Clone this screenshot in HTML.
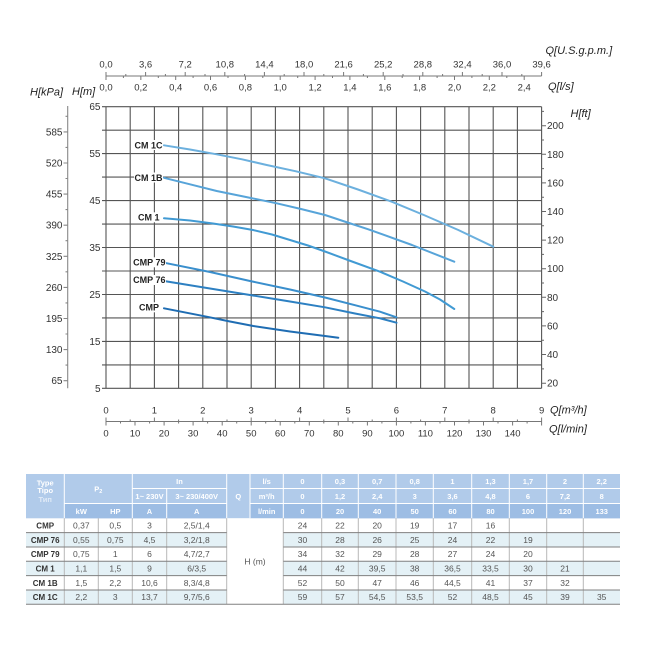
<!DOCTYPE html>
<html><head><meta charset="utf-8"><style>
html,body{margin:0;padding:0;background:#fff;}
svg{display:block;}
text{font-family:"Liberation Sans",Arial,sans-serif;}
</style></head><body>
<svg width="650" height="650" viewBox="0 0 650 650" xmlns="http://www.w3.org/2000/svg">
<rect width="650" height="650" fill="#fff"/>
<!-- grid -->
<g stroke="#555" stroke-width="1.1" fill="none">
<path d="M106 106.7V388.3M130.2 106.7V388.3M154.4 106.7V388.3M178.6 106.7V388.3M202.8 106.7V388.3M227 106.7V388.3M251.2 106.7V388.3M275.4 106.7V388.3M299.6 106.7V388.3M323.8 106.7V388.3M348 106.7V388.3M372.2 106.7V388.3M396.4 106.7V388.3M420.6 106.7V388.3M444.8 106.7V388.3M469 106.7V388.3M493.2 106.7V388.3M517.4 106.7V388.3M541.6 106.7V388.3"/>
<path d="M106 106.7H541.6M106 130.2H541.6M106 153.6H541.6M106 177.1H541.6M106 200.6H541.6M106 224.1H541.6M106 247.5H541.6M106 271H541.6M106 294.5H541.6M106 317.9H541.6M106 341.4H541.6M106 364.9H541.6M106 388.3H541.6"/>
<!-- left m ticks -->
<path d="M102 106.7H106M102 130.2H106M102 153.6H106M102 177.1H106M102 200.6H106M102 224.1H106M102 247.5H106M102 271H106M102 294.5H106M102 317.9H106M102 341.4H106M102 364.9H106M102 388.3H106"/>
</g>
<!-- kPa axis -->
<g stroke="#888" stroke-width="1.1" fill="none">
<path d="M67.7 106V388.3"/>
<path d="M63.5 380.7H67.7M63.5 349.6H67.7M63.5 318.5H67.7M63.5 287.4H67.7M63.5 256.3H67.7M63.5 225.2H67.7M63.5 194.1H67.7M63.5 163H67.7M63.5 131.9H67.7"/>
<path d="M65.5 365.1H67.7M65.5 334H67.7M65.5 302.9H67.7M65.5 271.8H67.7M65.5 240.7H67.7M65.5 209.6H67.7M65.5 178.5H67.7M65.5 147.4H67.7M65.5 116.3H67.7"/>
</g>
<!-- ft ticks -->
<g stroke="#666" stroke-width="1" fill="none">
<path d="M541.6 383.2H546M541.6 354.5H546M541.6 325.9H546M541.6 297.3H546M541.6 268.7H546M541.6 240.1H546M541.6 211.5H546M541.6 182.9H546M541.6 154.3H546M541.6 125.7H546"/>
<path d="M541.6 368.9H544M541.6 340.2H544M541.6 311.6H544M541.6 283H544M541.6 254.4H544M541.6 225.8H544M541.6 197.2H544M541.6 168.6H544M541.6 140H544M541.6 111.4H544"/>
</g>
<!-- top axis -->
<g stroke="#777" stroke-width="1" fill="none">
<path d="M106 76H541.6"/>
<path d="M106 72V76M145.6 72V76M185.2 72V76M224.8 72V76M264.4 72V76M304 72V76M343.6 72V76M383.2 72V76M422.8 72V76M462.4 72V76M502 72V76M541.6 72V76"/>
<path d="M125.8 74V76M165.4 74V76M205 74V76M244.6 74V76M284.2 74V76M323.8 74V76M363.4 74V76M403 74V76M442.6 74V76M482.2 74V76M521.8 74V76"/>
<path d="M106 76V80M140.85 76V80M175.7 76V80M210.5 76V80M245.4 76V80M280.2 76V80M315.1 76V80M349.9 76V80M384.8 76V80M419.6 76V80M454.5 76V80M489.3 76V80M524.2 76V80"/>
<path d="M123.4 76V78M158.3 76V78M193.1 76V78M228 76V78M262.8 76V78M297.7 76V78M332.5 76V78M367.4 76V78M402.2 76V78M437.1 76V78M471.9 76V78M506.8 76V78"/>
</g>
<!-- bottom axis -->
<g stroke="#777" stroke-width="1" fill="none">
<path d="M106 421.5H541.6"/>
<path d="M106 417.5V421.5M154.4 417.5V421.5M202.8 417.5V421.5M251.2 417.5V421.5M299.6 417.5V421.5M348 417.5V421.5M396.4 417.5V421.5M444.8 417.5V421.5M493.2 417.5V421.5M541.6 417.5V421.5"/>
<path d="M130.2 419.5V421.5M178.6 419.5V421.5M227 419.5V421.5M275.4 419.5V421.5M323.8 419.5V421.5M372.2 419.5V421.5M420.6 419.5V421.5M469 419.5V421.5M517.4 419.5V421.5"/>
<path d="M106 421.5V425.5M135 421.5V425.5M164.1 421.5V425.5M193.1 421.5V425.5M222.2 421.5V425.5M251.2 421.5V425.5M280.2 421.5V425.5M309.3 421.5V425.5M338.3 421.5V425.5M367.4 421.5V425.5M396.4 421.5V425.5M425.4 421.5V425.5M454.5 421.5V425.5M483.5 421.5V425.5M512.6 421.5V425.5M541.6 421.5V425.5"/>
<path d="M120.5 421.5V423.5M149.6 421.5V423.5M178.6 421.5V423.5M207.6 421.5V423.5M236.7 421.5V423.5M265.7 421.5V423.5M294.8 421.5V423.5M323.8 421.5V423.5M352.8 421.5V423.5M381.9 421.5V423.5M410.9 421.5V423.5M440 421.5V423.5M469 421.5V423.5M498 421.5V423.5M527.1 421.5V423.5"/>
</g>
<!-- curves -->
<g fill="none" stroke-width="2" stroke-linejoin="round" stroke-linecap="round">
<polyline stroke="#6cb0de" points="164,145.3 190,149.5 216.7,154.3 242,159.3 266.7,165 296,171.3 325,178.3 358,189.5 391.7,201.7 425,215.5 458.3,230 493.3,246.7"/>
<polyline stroke="#57a4d9" points="164,177.8 190,184.3 216.7,191 246,197 276.7,203.3 301,209 325,215 346,222 368.3,229.3 412,245 454.3,261.7"/>
<polyline stroke="#419ad3" points="164,218.3 190,220.5 213,223.5 233,226.5 253,230 272,234.5 290,240 308,245.5 325,251.5 352,261.5 380,271.7 403,281.5 425,291.5 440,299.5 454.3,309"/>
<polyline stroke="#3a8fcd" points="164,262.7 210,272 250,281 290,289.5 325,297.5 355,305.2 380,311.7 396.5,317.3"/>
<polyline stroke="#2d80c2" points="164,281 210,288.5 250,295 290,301.5 325,307.3 355,313.5 380,318.3 396.5,322.7"/>
<polyline stroke="#1f6db3" points="164,308.3 206.7,316.7 230,321.5 253.3,326 290,331.5 325,336 338.3,337.8"/>
</g>
<!-- curve labels -->
<g fill="#fff">
<rect x="134" y="140" width="29" height="10"/>
<rect x="134" y="172.5" width="29" height="10"/>
<rect x="137" y="212.3" width="23" height="10"/>
<rect x="132" y="257.3" width="34" height="10"/>
<rect x="132" y="275" width="34" height="10"/>
<rect x="138" y="302.3" width="21.5" height="10"/>
</g>
<g font-size="9" font-weight="bold" fill="#222" text-anchor="end">
<text x="162.5" y="148.3">CM 1C</text>
<text x="162.5" y="180.9">CM 1B</text>
<text x="159.5" y="220.5">CM 1</text>
<text x="165.5" y="265.5">CMP 79</text>
<text x="165.5" y="283.2">CMP 76</text>
<text x="159" y="310.5">CMP</text>
</g>
<!-- axis numbers -->
<g font-size="10" fill="#333" text-anchor="end">
<text x="100.5" y="110.2">65</text>
<text x="100.5" y="157.1">55</text>
<text x="100.5" y="204.1">45</text>
<text x="100.5" y="251">35</text>
<text x="100.5" y="298">25</text>
<text x="100.5" y="344.9">15</text>
<text x="100.5" y="391.8">5</text>
<text x="62.5" y="384.2">65</text>
<text x="62.5" y="353.1">130</text>
<text x="62.5" y="322">195</text>
<text x="62.5" y="290.9">260</text>
<text x="62.5" y="259.8">325</text>
<text x="62.5" y="228.7">390</text>
<text x="62.5" y="197.6">455</text>
<text x="62.5" y="166.5">520</text>
<text x="62.5" y="135.4">585</text>
</g>
<g font-size="10" fill="#333">
<text x="547" y="386.7">20</text>
<text x="547" y="358">40</text>
<text x="547" y="329.4">60</text>
<text x="547" y="300.8">80</text>
<text x="547" y="272.2">100</text>
<text x="547" y="243.6">120</text>
<text x="547" y="215">140</text>
<text x="547" y="186.4">160</text>
<text x="547" y="157.8">180</text>
<text x="547" y="129.2">200</text>
</g>
<g font-size="9.5" fill="#333" text-anchor="middle">
<text x="106" y="67.5">0,0</text><text x="145.6" y="67.5">3,6</text><text x="185.2" y="67.5">7,2</text><text x="224.8" y="67.5">10,8</text><text x="264.4" y="67.5">14,4</text><text x="304" y="67.5">18,0</text><text x="343.6" y="67.5">21,6</text><text x="383.2" y="67.5">25,2</text><text x="422.8" y="67.5">28,8</text><text x="462.4" y="67.5">32,4</text><text x="502" y="67.5">36,0</text><text x="541.6" y="67.5">39,6</text>
<text x="106" y="90.5">0,0</text><text x="140.85" y="90.5">0,2</text><text x="175.7" y="90.5">0,4</text><text x="210.5" y="90.5">0,6</text><text x="245.4" y="90.5">0,8</text><text x="280.2" y="90.5">1,0</text><text x="315.1" y="90.5">1,2</text><text x="349.9" y="90.5">1,4</text><text x="384.8" y="90.5">1,6</text><text x="419.6" y="90.5">1,8</text><text x="454.5" y="90.5">2,0</text><text x="489.3" y="90.5">2,2</text><text x="524.2" y="90.5">2,4</text>
<text x="106" y="413.5">0</text><text x="154.4" y="413.5">1</text><text x="202.8" y="413.5">2</text><text x="251.2" y="413.5">3</text><text x="299.6" y="413.5">4</text><text x="348" y="413.5">5</text><text x="396.4" y="413.5">6</text><text x="444.8" y="413.5">7</text><text x="493.2" y="413.5">8</text><text x="541.6" y="413.5">9</text>
<text x="106" y="436.5">0</text><text x="135" y="436.5">10</text><text x="164.1" y="436.5">20</text><text x="193.1" y="436.5">30</text><text x="222.2" y="436.5">40</text><text x="251.2" y="436.5">50</text><text x="280.2" y="436.5">60</text><text x="309.3" y="436.5">70</text><text x="338.3" y="436.5">80</text><text x="367.4" y="436.5">90</text><text x="396.4" y="436.5">100</text><text x="425.4" y="436.5">110</text><text x="454.5" y="436.5">120</text><text x="483.5" y="436.5">130</text><text x="512.6" y="436.5">140</text>
</g>
<!-- axis titles -->
<g font-size="11" font-style="italic" fill="#222">
<text x="30" y="95.5">H[kPa]</text>
<text x="72" y="95">H[m]</text>
<text x="545.5" y="54">Q[U.S.g.p.m.]</text>
<text x="548" y="90">Q[l/s]</text>
<text x="570.5" y="117">H[ft]</text>
<text x="550" y="413.3">Q[m³/h]</text>
<text x="549" y="432.3">Q[l/min]</text>
</g>

<!-- TABLE -->
<g>
<rect x="26" y="474" width="594" height="44.3" fill="#b1cbea"/>
<rect x="64.3" y="503.5" width="162.4" height="14.8" fill="#9dbde4"/>
<rect x="250" y="503.5" width="370" height="14.8" fill="#9dbde4"/>
<!-- data rows -->
<rect x="26" y="532.6" width="594" height="14.4" fill="#e4f1f6"/>
<rect x="26" y="561.3" width="594" height="14.3" fill="#e4f1f6"/>
<rect x="26" y="590" width="594" height="14.3" fill="#e4f1f6"/>
<rect x="226.7" y="518.3" width="56.6" height="86" fill="#fff"/>
</g>
<g stroke="#fff" stroke-width="1" fill="none">
<path d="M64.3 474V518.3M132.3 474V518.3M166.7 488.5V518.3M226.7 474V518.3M250 474V518.3M283.3 474V518.3M321.7 474V518.3M358.3 474V518.3M396 474V518.3M433.3 474V518.3M471.7 474V518.3M509.3 474V518.3M546.7 474V518.3M583.3 474V518.3"/>
<path d="M132.3 488.5H226.7M250 488.5H620M250 503.5H620M64.3 503.5H226.7"/>
</g>
<g stroke="#b8b8b8" stroke-width="1" fill="none">
<path d="M64.3 518.3V604.3M98.3 518.3V604.3M132.3 518.3V604.3M166.7 518.3V604.3M226.7 518.3V604.3M283.3 518.3V604.3M321.7 518.3V604.3M358.3 518.3V604.3M396 518.3V604.3M433.3 518.3V604.3M471.7 518.3V604.3M509.3 518.3V604.3M546.7 518.3V604.3M583.3 518.3V604.3"/>
</g>
<g stroke="#808080" stroke-width="1" fill="none">
<path d="M26 532.6H226.7M283.3 532.6H620M26 547H226.7M283.3 547H620M26 561.3H226.7M283.3 561.3H620M26 575.6H226.7M283.3 575.6H620M26 590H226.7M283.3 590H620M26 604.3H620"/>
</g>
<g font-size="7.5" font-weight="bold" fill="#fff" text-anchor="middle">
<text x="45.2" y="485.5">Type</text>
<text x="45.2" y="493">Tipo</text>
<text x="45.2" y="502" fill-opacity="0.6">Тип</text>
<text x="98.3" y="491.5">P<tspan font-size="5.5" dy="1.5">2</tspan></text>
<text x="179.5" y="484">In</text>
<text x="149.5" y="498.8">1~ 230V</text>
<text x="196.7" y="498.8">3~ 230/400V</text>
<text x="81.3" y="513.8">kW</text>
<text x="115.3" y="513.8">HP</text>
<text x="149.5" y="513.8">A</text>
<text x="196.7" y="513.8">A</text>
<text x="238.3" y="498.8">Q</text>
<text x="266.7" y="484">l/s</text>
<text x="266.7" y="498.8">m³/h</text>
<text x="266.7" y="513.8">l/min</text>
<text x="302.5" y="484">0</text><text x="340" y="484">0,3</text><text x="377.2" y="484">0,7</text><text x="414.7" y="484">0,8</text><text x="452.5" y="484">1</text><text x="490.5" y="484">1,3</text><text x="528" y="484">1,7</text><text x="565" y="484">2</text><text x="601.7" y="484">2,2</text>
<text x="302.5" y="498.8">0</text><text x="340" y="498.8">1,2</text><text x="377.2" y="498.8">2,4</text><text x="414.7" y="498.8">3</text><text x="452.5" y="498.8">3,6</text><text x="490.5" y="498.8">4,8</text><text x="528" y="498.8">6</text><text x="565" y="498.8">7,2</text><text x="601.7" y="498.8">8</text>
<text x="302.5" y="513.8">0</text><text x="340" y="513.8">20</text><text x="377.2" y="513.8">40</text><text x="414.7" y="513.8">50</text><text x="452.5" y="513.8">60</text><text x="490.5" y="513.8">80</text><text x="528" y="513.8">100</text><text x="565" y="513.8">120</text><text x="601.7" y="513.8">133</text>
</g>
<g font-size="8" font-weight="bold" fill="#333" text-anchor="middle">
<text x="45.2" y="528.5">CMP</text>
<text x="45.2" y="542.8">CMP 76</text>
<text x="45.2" y="557.2">CMP 79</text>
<text x="45.2" y="571.5">CM 1</text>
<text x="45.2" y="585.8">CM 1B</text>
<text x="45.2" y="600.2">CM 1C</text>
</g>
<g font-size="8.5" fill="#555" text-anchor="middle">
<text x="255" y="564.3">H (m)</text>
<!-- CMP -->
<text x="81.3" y="528.5">0,37</text><text x="115.3" y="528.5">0,5</text><text x="149.5" y="528.5">3</text><text x="196.7" y="528.5">2,5/1,4</text>
<text x="302.5" y="528.5">24</text><text x="340" y="528.5">22</text><text x="377.2" y="528.5">20</text><text x="414.7" y="528.5">19</text><text x="452.5" y="528.5">17</text><text x="490.5" y="528.5">16</text>
<!-- CMP 76 -->
<text x="81.3" y="542.8">0,55</text><text x="115.3" y="542.8">0,75</text><text x="149.5" y="542.8">4,5</text><text x="196.7" y="542.8">3,2/1,8</text>
<text x="302.5" y="542.8">30</text><text x="340" y="542.8">28</text><text x="377.2" y="542.8">26</text><text x="414.7" y="542.8">25</text><text x="452.5" y="542.8">24</text><text x="490.5" y="542.8">22</text><text x="528" y="542.8">19</text>
<!-- CMP 79 -->
<text x="81.3" y="557.2">0,75</text><text x="115.3" y="557.2">1</text><text x="149.5" y="557.2">6</text><text x="196.7" y="557.2">4,7/2,7</text>
<text x="302.5" y="557.2">34</text><text x="340" y="557.2">32</text><text x="377.2" y="557.2">29</text><text x="414.7" y="557.2">28</text><text x="452.5" y="557.2">27</text><text x="490.5" y="557.2">24</text><text x="528" y="557.2">20</text>
<!-- CM 1 -->
<text x="81.3" y="571.5">1,1</text><text x="115.3" y="571.5">1,5</text><text x="149.5" y="571.5">9</text><text x="196.7" y="571.5">6/3,5</text>
<text x="302.5" y="571.5">44</text><text x="340" y="571.5">42</text><text x="377.2" y="571.5">39,5</text><text x="414.7" y="571.5">38</text><text x="452.5" y="571.5">36,5</text><text x="490.5" y="571.5">33,5</text><text x="528" y="571.5">30</text><text x="565" y="571.5">21</text>
<!-- CM 1B -->
<text x="81.3" y="585.8">1,5</text><text x="115.3" y="585.8">2,2</text><text x="149.5" y="585.8">10,6</text><text x="196.7" y="585.8">8,3/4,8</text>
<text x="302.5" y="585.8">52</text><text x="340" y="585.8">50</text><text x="377.2" y="585.8">47</text><text x="414.7" y="585.8">46</text><text x="452.5" y="585.8">44,5</text><text x="490.5" y="585.8">41</text><text x="528" y="585.8">37</text><text x="565" y="585.8">32</text>
<!-- CM 1C -->
<text x="81.3" y="600.2">2,2</text><text x="115.3" y="600.2">3</text><text x="149.5" y="600.2">13,7</text><text x="196.7" y="600.2">9,7/5,6</text>
<text x="302.5" y="600.2">59</text><text x="340" y="600.2">57</text><text x="377.2" y="600.2">54,5</text><text x="414.7" y="600.2">53,5</text><text x="452.5" y="600.2">52</text><text x="490.5" y="600.2">48,5</text><text x="528" y="600.2">45</text><text x="565" y="600.2">39</text><text x="601.7" y="600.2">35</text>
</g>
</svg>
</body></html>
